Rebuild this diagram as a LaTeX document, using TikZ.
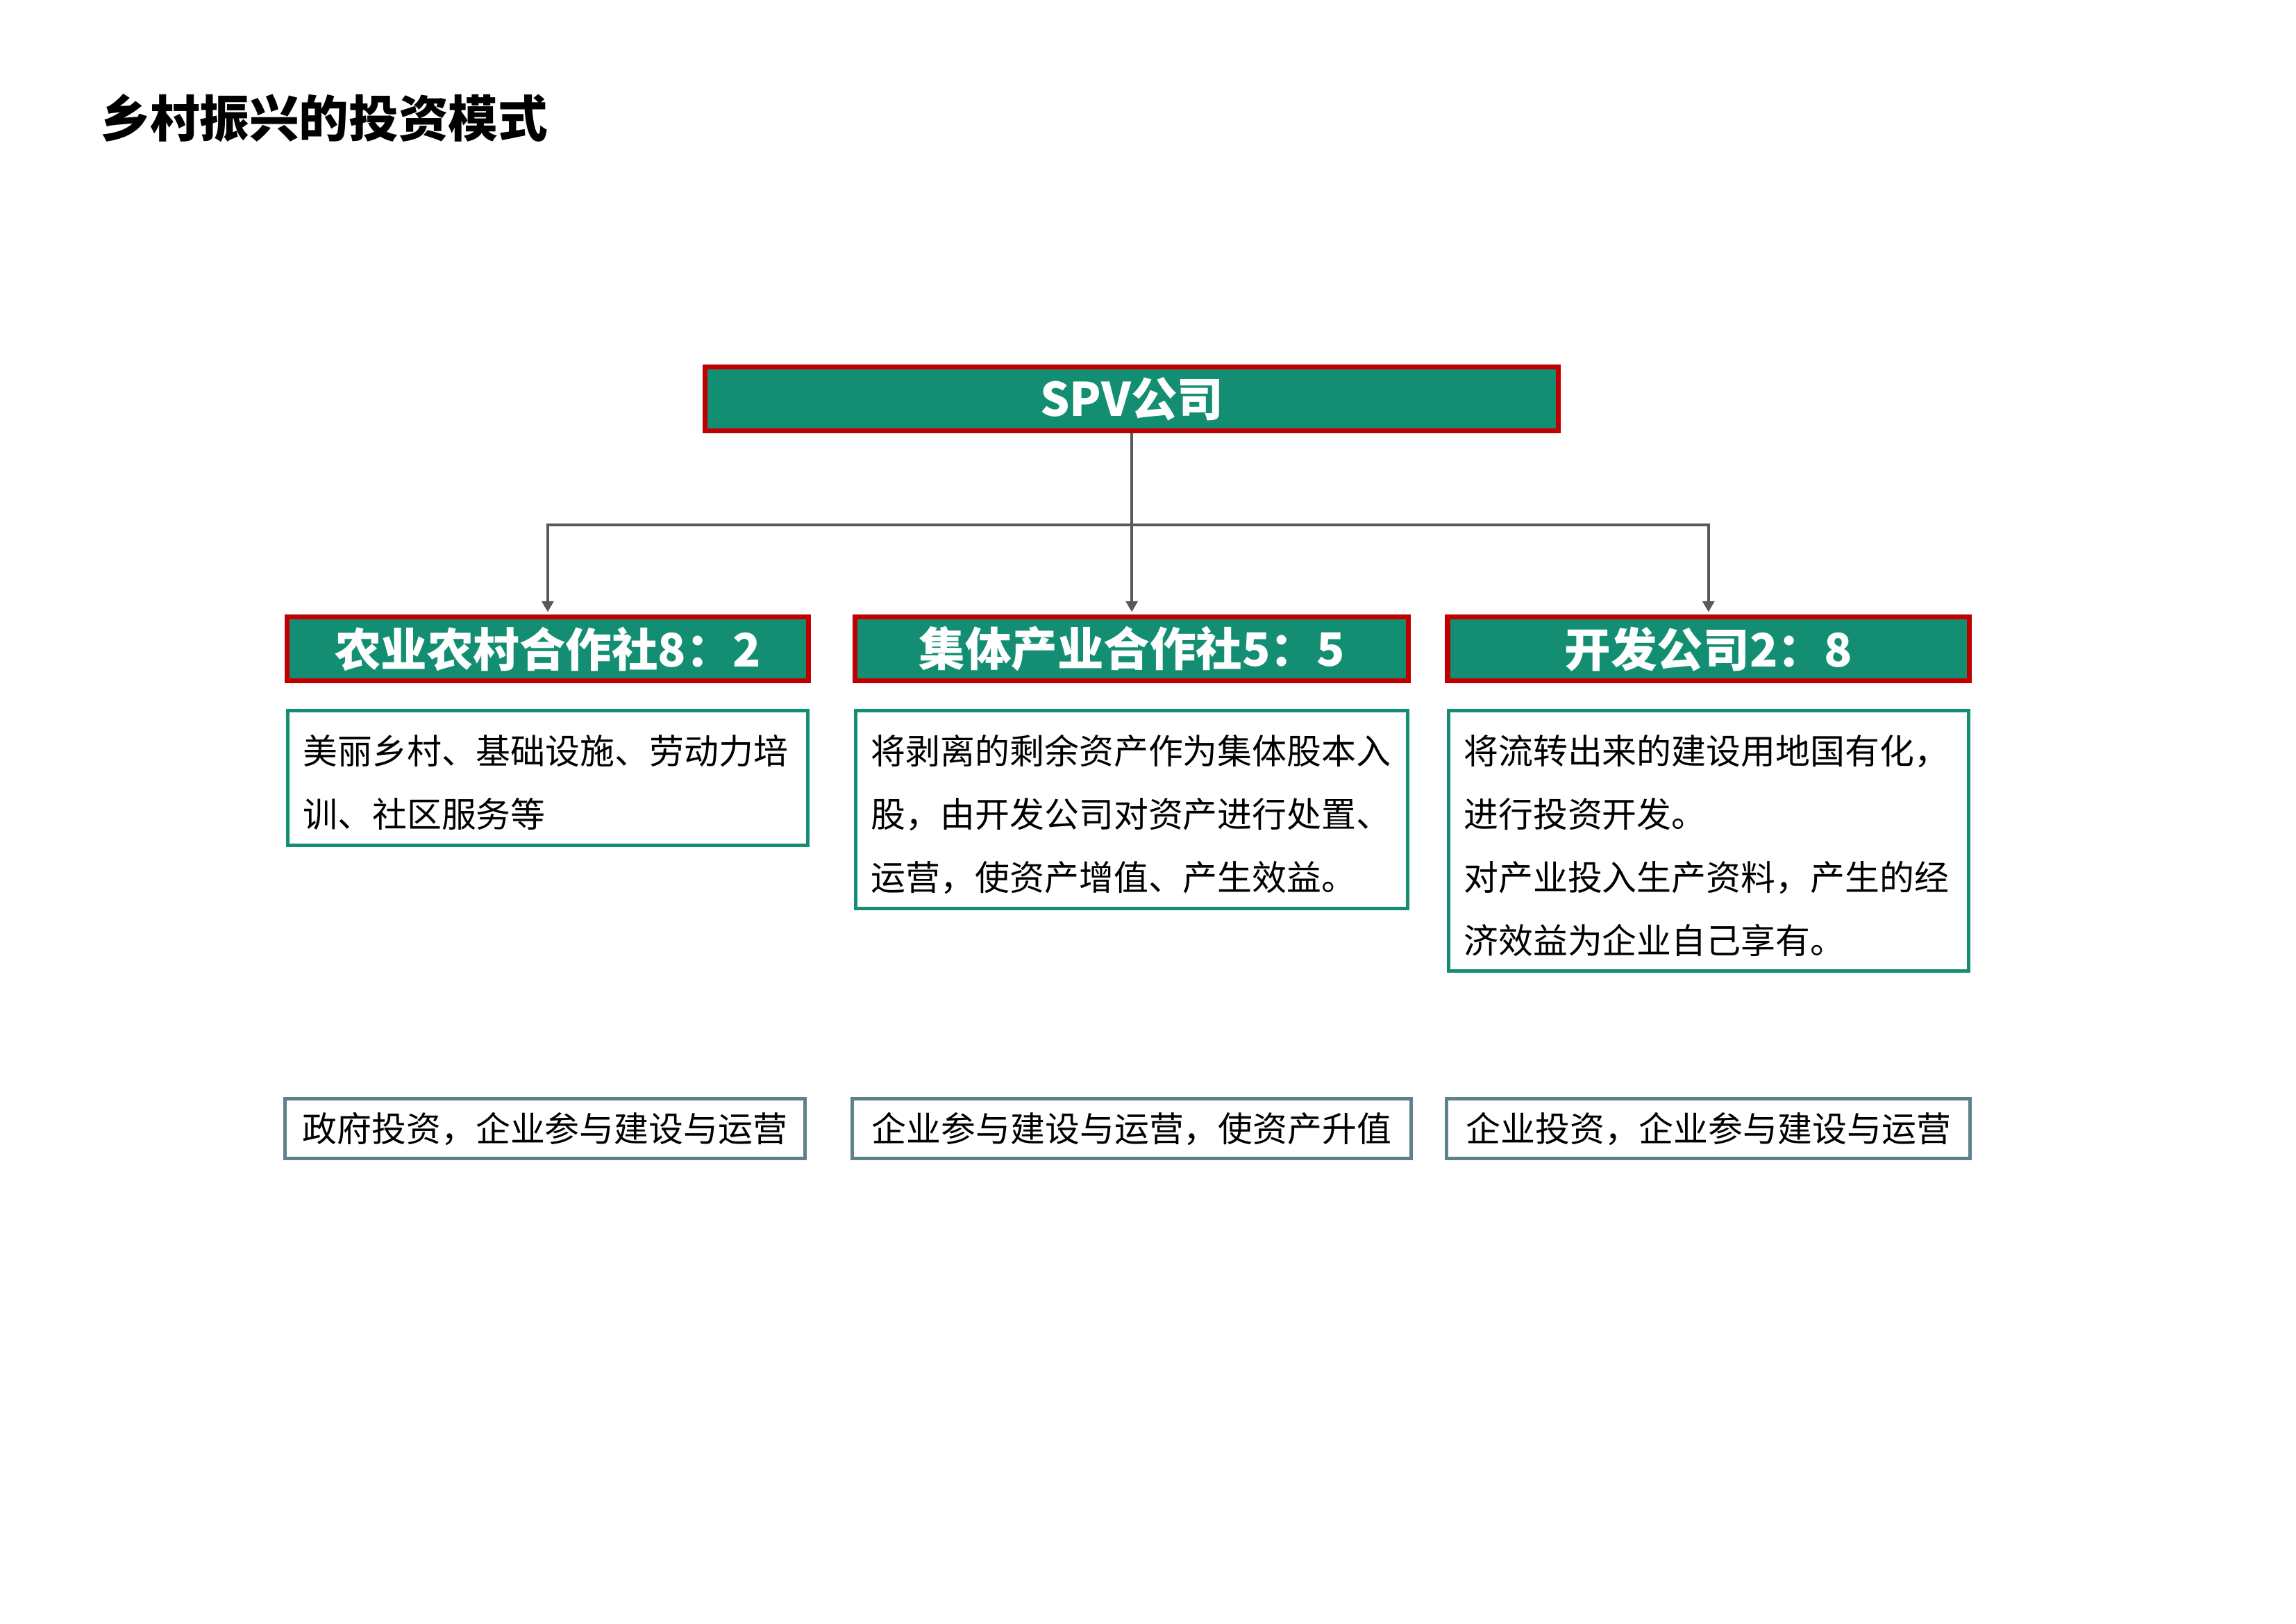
\documentclass[tikz,border=0pt]{standalone}
\usepackage{fontspec}
\setmainfont{Noto Sans CJK SC}
\usetikzlibrary{arrows.meta}
\definecolor{spvgreen}{RGB}{19,142,115}
\definecolor{spvred}{RGB}{192,0,0}
\definecolor{linegray}{RGB}{89,89,89}
\definecolor{notegray}{RGB}{94,130,138}
\tikzset{
  head/.style={draw=spvred, line width=1.8pt, fill=spvgreen, text=white,
    font=\bfseries\fontsize{17pt}{20pt}\selectfont, minimum height=8.3mm, inner sep=0pt},
  desc/.style={draw=spvgreen, line width=1.3pt, anchor=north, inner xsep=2mm, inner ysep=0pt,
    align=left, font=\fontsize{12.75pt}{8.15mm}\selectfont,
    execute at begin node={\noindent\rule{0pt}{6.95mm}},
    execute at end node={\rule[-2.3mm]{0pt}{0pt}}},
  note/.style={draw=notegray, line width=1.3pt, minimum height=7.7mm, inner sep=0pt,
    font=\fontsize{12.75pt}{15pt}\selectfont},
  link/.style={draw=linegray, line width=1pt},
  tip/.style={-{Triangle[length=1.4mm, width=1.5mm]}, shorten >=0.9pt}
}
\begin{document}
\begin{tikzpicture}[x=1mm, y=1mm]
\useasboundingbox (0,0) rectangle (297,-210);
\def\xa{70.85}
\def\xb{146.4}
\def\xc{221.0}
\def\ya{-51.6}
\def\yh{-67.9}
\def\yb{-83.95}
\def\yc{-91.7}
\def\yd{-146.0}

\node[anchor=west, inner sep=0pt, font=\bfseries\fontsize{18.3pt}{22pt}\selectfont] (title) at (12.9,-15.3) {乡村振兴的投资模式};

\node[head, minimum width=110.4mm] (spv) at (\xb,\ya) {SPV公司};
\node[head, minimum width=67.5mm] (coop) at (\xa,\yb) {农业农村合作社8：2};
\node[head, minimum width=71.6mm] (collective) at (\xb,\yb) {集体产业合作社5：5};
\node[head, minimum width=67.5mm] (devco) at (\xc,\yb) {开发公司2：8};

\node[desc, text width=63.3mm] (coopdesc) at (\xa,\yc) {美丽乡村、基础设施、劳动力培\\训、社区服务等};
\node[desc, text width=67.4mm] (collectivedesc) at (\xb,\yc) {将剥离的剩余资产作为集体股本入\\股，由开发公司对资产进行处置、\\运营，使资产增值、产生效益。};
\node[desc, text width=63.3mm] (devcodesc) at (\xc,\yc) {将流转出来的建设用地国有化，\\进行投资开发。\\对产业投入生产资料，产生的经\\济效益为企业自己享有。};

\node[note, minimum width=67.2mm] (coopnote) at (70.5,\yd) {政府投资，企业参与建设与运营};
\node[note, minimum width=72.3mm] (collectivenote) at (\xb,\yd) {企业参与建设与运营，使资产升值};
\node[note, minimum width=67.7mm] (devconote) at (\xc,\yd) {企业投资，企业参与建设与运营};

\coordinate (hub) at (\xb,\yh);
\draw[link] (spv.south) -- (hub);
\draw[link, tip] (hub) -| (coop.north);
\draw[link, tip] (hub) -- (collective.north);
\draw[link, tip] (hub) -| (devco.north);
\end{tikzpicture}
\end{document}
